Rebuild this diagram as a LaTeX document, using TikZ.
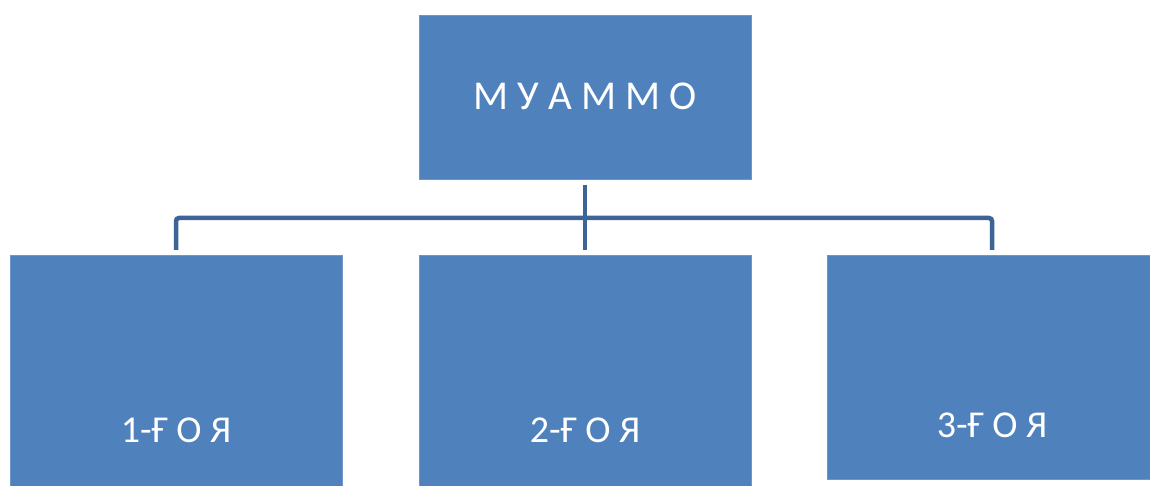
\documentclass[tikz,border=0pt]{standalone}
\usepackage{fontspec}
\setmainfont{Carlito}
\definecolor{boxblue}{RGB}{79,129,189}
\definecolor{boxedge}{RGB}{110,150,200}
\definecolor{connblue}{RGB}{60,100,150}
\tikzset{
  box/.style={fill=boxblue, draw=boxedge, line width=0.6pt, inner sep=0pt,
    text=white, align=center},
  conn/.style={draw=connblue, line width=4.5pt}
}
\begin{document}
\begin{tikzpicture}[x=1pt,y=-1pt]
\useasboundingbox (0,0) rectangle (1150,486);
\fill[white] (0,0) rectangle (1150,486);
% top box: 419..751 x, 15..179 y, baseline 109
\node[box, minimum width=332pt, text height=94pt, text depth=70pt,
  font=\fontsize{41}{41}\selectfont, anchor=north] (top) at (585,15) {М У А М М О};
% bottom boxes
\node[box, minimum width=332pt, text height=187pt, text depth=44pt,
  font=\fontsize{38}{38}\selectfont, anchor=north] (b1) at (176,255) {1-Ғ О Я};
\node[box, minimum width=332pt, text height=187pt, text depth=44pt,
  font=\fontsize{38}{38}\selectfont, anchor=north] (b2) at (585,255) {2-Ғ О Я};
\node[box, minimum width=330pt, text height=182pt, text depth=42pt,
  font=\fontsize{38}{38}\selectfont, anchor=north] (b3) at (992,255) {3-Ғ О Я};
% connectors
\coordinate (bar) at (585,218);
\draw[conn] ([yshift=-5pt]top.south) -- ([yshift=5pt]b2.north);
\draw[conn, rounded corners=3pt] ([yshift=5pt]b1.north) |- (bar) -| ([yshift=5pt]b3.north);
\end{tikzpicture}
\end{document}
